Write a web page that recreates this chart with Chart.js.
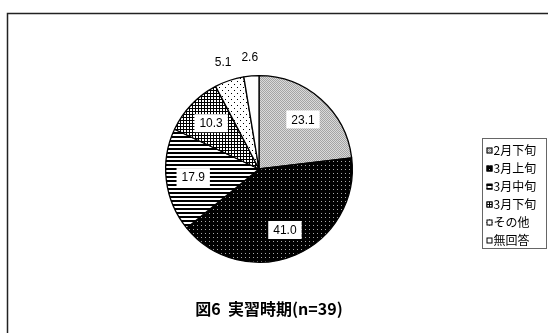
<!DOCTYPE html>
<html>
<head>
<meta charset="utf-8">
<script src="https://cdn.jsdelivr.net/npm/chart.js@4"></script>
<style>
  html, body { margin: 0; padding: 0; background: #fff; }
  #wrap { position: relative; width: 548px; height: 333px; }
</style>
</head>
<body>
<div id="wrap"><canvas id="pieChart" width="548" height="333"></canvas></div>
<script>
// 実習時期 (n=39), percent
var categories = ['2月下旬', '3月上旬', '3月中旬', '3月下旬', 'その他', '無回答'];
var values = [23.1, 41.0, 17.9, 10.3, 5.1, 2.6];
var titleText = '図6  実習時期(n=39)';

// small tile patterns for the slices
function makePattern(size, draw) {
    var c = document.createElement('canvas');
    c.width = size;
    c.height = size;
    var g = c.getContext('2d');
    draw(g, size);
    return document.getElementById('pieChart').getContext('2d').createPattern(c, 'repeat');
}

var patterns = [
    // light gray fine texture
    makePattern(2, function (g) {
        g.fillStyle = '#dadada'; g.fillRect(0, 0, 2, 2);
        g.fillStyle = '#a4a4a4'; g.fillRect(0, 0, 1, 1); g.fillRect(1, 1, 1, 1);
    }),
    // black with white dots
    makePattern(4, function (g) {
        g.fillStyle = '#000'; g.fillRect(0, 0, 4, 4);
        g.fillStyle = '#aaa'; g.fillRect(1, 1, 1, 1);
    }),
    // horizontal lines
    makePattern(4, function (g) {
        g.fillStyle = '#fff'; g.fillRect(0, 0, 4, 4);
        g.fillStyle = '#000'; g.fillRect(0, 0, 4, 2);
    }),
    // cross hatch grid
    makePattern(3, function (g) {
        g.fillStyle = '#fff'; g.fillRect(0, 0, 3, 3);
        g.fillStyle = '#000'; g.fillRect(0, 0, 3, 1); g.fillRect(0, 0, 1, 3);
    }),
    // sparse dots
    makePattern(6, function (g) {
        g.fillStyle = '#fff'; g.fillRect(0, 0, 6, 6);
        g.fillStyle = '#000'; g.fillRect(0, 0, 1, 1); g.fillRect(3, 3, 1, 1);
    }),
    '#ffffff'
];

// value labels: boxed inside, plain outside for small slices
var sliceLabels = {
    id: 'sliceLabels',
    afterDatasetsDraw: function (chart) {
        var ctx = chart.ctx;
        var meta = chart.getDatasetMeta(0);
        ctx.save();
        ctx.font = '12px "Liberation Sans", Arial, sans-serif';
        ctx.textAlign = 'center';
        ctx.textBaseline = 'middle';
        meta.data.forEach(function (arc, i) {
            var mid = (arc.startAngle + arc.endAngle) / 2;
            var txt = values[i].toFixed(1);
            var inside = values[i] >= 10;
            var r = arc.outerRadius * (inside ? 0.71 : 1.21);
            var x = arc.x + Math.cos(mid) * r;
            var y = arc.y + Math.sin(mid) * r;
            if (inside) {
                var w = ctx.measureText(txt).width + 10;
                ctx.fillStyle = '#fff';
                ctx.fillRect(x - w / 2, y - 9, w, 18);
            }
            ctx.fillStyle = '#000';
            ctx.fillText(txt, x, y + 1);
        });
        ctx.restore();
    }
};

// outer frame, legend box and caption
var frameAndLegend = {
    id: 'frameAndLegend',
    afterDraw: function (chart) {
        var ctx = chart.ctx;
        ctx.save();
        ctx.strokeStyle = '#222';
        ctx.lineWidth = 1.5;
        ctx.beginPath();
        ctx.moveTo(7.5, 333);
        ctx.lineTo(7.5, 13.5);
        ctx.lineTo(548, 13.5);
        ctx.stroke();

        var lx = 482.5, ly = 138.5, lw = 64, lh = 110;
        ctx.lineWidth = 1;
        ctx.strokeStyle = '#666';
        ctx.strokeRect(lx, ly, lw, lh);
        ctx.font = '12px "Noto Sans CJK JP", sans-serif';
        ctx.textBaseline = 'middle';
        ctx.textAlign = 'left';
        categories.forEach(function (name, i) {
            var y = ly + 12 + i * 18;
            ctx.fillStyle = patterns[i];
            ctx.fillRect(lx + 4, y - 3, 6, 6);
            ctx.strokeStyle = '#000';
            ctx.strokeRect(lx + 4.5, y - 2.5, 5, 5);
            ctx.fillStyle = '#000';
            ctx.fillText(name, lx + 11, y);
        });

        ctx.font = 'bold 16px "Noto Sans CJK JP", sans-serif';
        ctx.textAlign = 'center';
        ctx.fillText(titleText, 269, 309);
        ctx.restore();
    }
};

var ctx = document.getElementById('pieChart').getContext('2d');
var myPieChart = new Chart(ctx, {
    type: 'pie',
    data: {
        labels: categories,
        datasets: [{
            data: values,
            backgroundColor: patterns,
            borderColor: '#000',
            borderWidth: 1.3
        }]
    },
    options: {
        responsive: false,
        animation: false,
        layout: { padding: { top: 75, bottom: 70, left: 165, right: 195 } },
        plugins: {
            legend: { display: false },
            tooltip: { enabled: false }
        }
    },
    plugins: [sliceLabels, frameAndLegend]
});
</script>
</body>
</html>
